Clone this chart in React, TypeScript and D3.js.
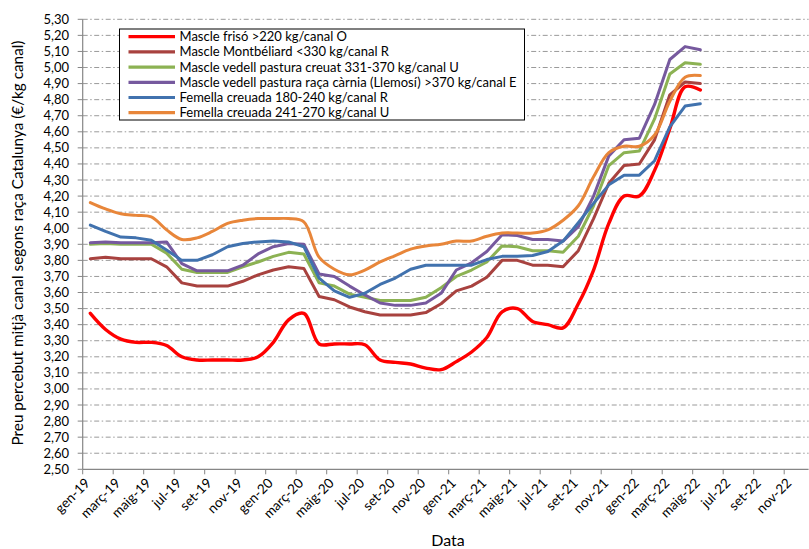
import React from "react";
import * as d3 from "d3";

const tickLabels = [
  "gen-19", "març-19", "maig-19", "jul-19", "set-19", "nov-19",
  "gen-20", "març-20", "maig-20", "jul-20", "set-20", "nov-20",
  "gen-21", "març-21", "maig-21", "jul-21", "set-21", "nov-21",
  "gen-22", "març-22", "maig-22", "jul-22", "set-22", "nov-22",
];

const yTicks = d3.range(25, 54).map((v) => v / 10);

const frison = [3.47, 3.37, 3.31, 3.29, 3.29, 3.27, 3.20, 3.18, 3.18, 3.18, 3.18, 3.20, 3.29, 3.43, 3.47, 3.28, 3.28, 3.28, 3.275, 3.18, 3.165, 3.155, 3.13, 3.12, 3.17, 3.23, 3.32, 3.48, 3.50, 3.42, 3.40, 3.38, 3.53, 3.74, 4.03, 4.20, 4.20, 4.36, 4.62, 4.88, 4.86];
const montbeliard = [3.81, 3.82, 3.81, 3.81, 3.81, 3.76, 3.66, 3.64, 3.64, 3.64, 3.67, 3.71, 3.74, 3.76, 3.75, 3.575, 3.555, 3.51, 3.48, 3.46, 3.46, 3.46, 3.475, 3.53, 3.61, 3.64, 3.695, 3.80, 3.80, 3.77, 3.77, 3.76, 3.86, 4.06, 4.28, 4.39, 4.40, 4.55, 4.83, 4.91, 4.90];
const creuat = [3.90, 3.905, 3.90, 3.90, 3.90, 3.845, 3.745, 3.725, 3.725, 3.725, 3.76, 3.79, 3.825, 3.85, 3.84, 3.66, 3.64, 3.59, 3.57, 3.55, 3.55, 3.55, 3.57, 3.63, 3.70, 3.74, 3.79, 3.89, 3.885, 3.86, 3.86, 3.85, 3.95, 4.14, 4.39, 4.47, 4.48, 4.68, 4.96, 5.03, 5.02];
const llemosi = [3.91, 3.915, 3.91, 3.91, 3.91, 3.915, 3.78, 3.735, 3.735, 3.735, 3.77, 3.84, 3.885, 3.905, 3.90, 3.715, 3.70, 3.64, 3.585, 3.535, 3.52, 3.52, 3.535, 3.595, 3.74, 3.785, 3.855, 3.96, 3.955, 3.93, 3.93, 3.92, 4.01, 4.20, 4.45, 4.55, 4.56, 4.77, 5.05, 5.13, 5.11];
const femella180 = [4.02, 3.98, 3.945, 3.94, 3.925, 3.865, 3.80, 3.80, 3.835, 3.885, 3.905, 3.915, 3.92, 3.915, 3.885, 3.69, 3.61, 3.57, 3.595, 3.65, 3.69, 3.745, 3.77, 3.77, 3.77, 3.77, 3.805, 3.825, 3.825, 3.83, 3.855, 3.92, 4.035, 4.155, 4.27, 4.33, 4.33, 4.42, 4.63, 4.76, 4.775];
const femella241 = [4.16, 4.12, 4.09, 4.08, 4.07, 3.99, 3.93, 3.94, 3.98, 4.03, 4.05, 4.06, 4.06, 4.06, 4.04, 3.82, 3.745, 3.71, 3.74, 3.79, 3.83, 3.87, 3.89, 3.90, 3.92, 3.92, 3.95, 3.97, 3.97, 3.97, 3.99, 4.05, 4.14, 4.32, 4.47, 4.51, 4.51, 4.58, 4.79, 4.94, 4.95];

const seriesNames = [
  "Mascle frisó >220 kg/canal O",
  "Mascle Montbéliard <330 kg/canal R",
  "Mascle vedell pastura creuat 331-370 kg/canal U",
  "Mascle vedell pastura raça càrnia (Llemosí) >370 kg/canal E",
  "Femella creuada 180-240 kg/canal R",
  "Femella creuada 241-270 kg/canal U",
];
const seriesValues = [frison, montbeliard, creuat, llemosi, femella180, femella241];
const seriesColors = ["#FF0000", "#A8423F", "#8CB253", "#76599E", "#4172AE", "#E8863A"];
const seriesSmooth = [true, false, false, false, false, true];

const W = 809;
const H = 549;
const FONT = "Lato, 'Open Sans', sans-serif";

export default function App() {
  const x = d3.scaleLinear().domain([0, 47.6]).range([82.7, 808.6]);
  const y = d3.scaleLinear().domain([2.5, 5.3]).range([469.3, 19.3]);
  const x0 = x(0);
  const xEnd = x(47.6);

  const lineFor = (smooth: boolean) =>
    d3
      .line<number>()
      .x((_, i) => x(i + 0.5))
      .y((v) => y(v))
      .curve(smooth ? d3.curveCatmullRom.alpha(0.5) : d3.curveLinear);

  const legendX = 119.5;
  const legendY = 29;
  const legendW = 405;
  const legendH = 91;

  return (
    <div style={{ position: "absolute", left: 0, top: 0 }}>
      <svg width={W} height={H} style={{ display: "block", background: "#fff" }}>
        {yTicks.slice(1).map((t) => (
          <line
            key={"g" + t}
            x1={x0}
            x2={xEnd}
            y1={y(t)}
            y2={y(t)}
            stroke="#9A9A9A"
            strokeWidth={1}
            strokeDasharray="5,2.5,1.5,2.5"
          />
        ))}
        <line x1={x0} x2={x0} y1={y(5.3)} y2={y(2.5)} stroke="#868686" strokeWidth={1.2} />
        {yTicks.map((t) => (
          <g key={"y" + t}>
            <line x1={x0 - 5} x2={x0} y1={y(t)} y2={y(t)} stroke="#868686" strokeWidth={1} />
            <text
              x={69}
              y={y(t)}
              dy="0.35em"
              textAnchor="end"
              fontFamily={FONT}
              fontSize={13}
              fill="#000"
            >
              {t.toFixed(2).replace(".", ",")}
            </text>
          </g>
        ))}
        <line x1={x0} x2={xEnd} y1={y(2.5)} y2={y(2.5)} stroke="#868686" strokeWidth={1.2} />
        {tickLabels.map((lab, k) => {
          const tx = x(k * 2);
          return (
            <g key={"x" + lab}>
              <line x1={tx} x2={tx} y1={y(2.5)} y2={y(2.5) + 5} stroke="#868686" strokeWidth={1} />
              <text
                transform={`translate(${tx + 8},${484}) rotate(-45)`}
                textAnchor="end"
                fontFamily={FONT}
                fontSize={13.5}
                fill="#000"
              >
                {lab}
              </text>
            </g>
          );
        })}
        {seriesValues.map((vals, s) => (
          <path
            key={"s" + s}
            d={lineFor(seriesSmooth[s])(vals) || ""}
            fill="none"
            stroke={seriesColors[s]}
            strokeWidth={s === 0 ? 3.4 : 3}
            strokeLinejoin="round"
            strokeLinecap="round"
          />
        ))}
        <rect x={legendX} y={legendY} width={legendW} height={legendH} fill="#fff" stroke="#000" strokeWidth={1} />
        {seriesNames.map((name, s) => {
          const cy = 36.7 + s * 15.2;
          return (
            <g key={"l" + s}>
              <line x1={128.5} x2={175} y1={cy} y2={cy} stroke={seriesColors[s]} strokeWidth={3.2} />
              <text x={179.5} y={cy} dy="0.35em" fontFamily={FONT} fontSize={13} fill="#000">
                {name}
              </text>
            </g>
          );
        })}
        <text x={448} y={546} textAnchor="middle" fontFamily={FONT} fontSize={16} fill="#000">
          Data
        </text>
        <text
          transform={`translate(23,243) rotate(-90)`}
          textAnchor="middle"
          fontFamily={FONT}
          fontSize={15.3}
          fill="#000"
        >
          Preu percebut mitjà canal segons raça Catalunya (€/kg canal)
        </text>
      </svg>
    </div>
  );
}
